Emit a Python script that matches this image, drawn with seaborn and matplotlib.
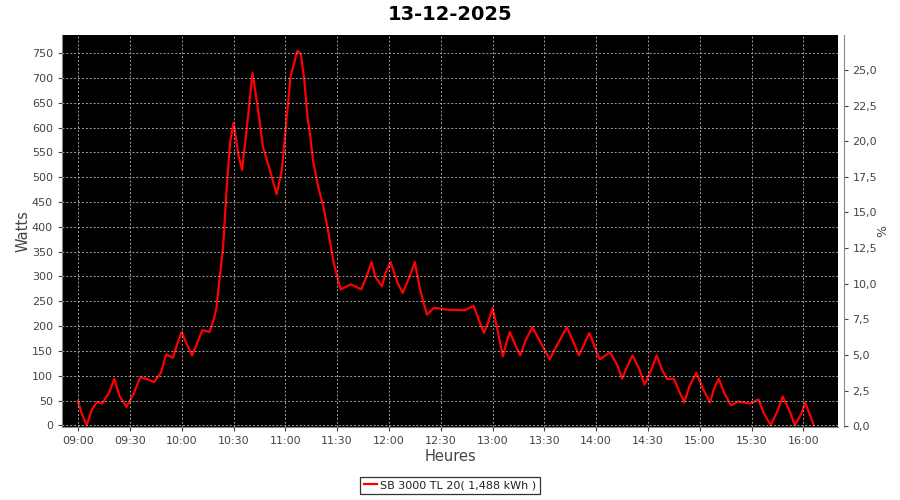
import matplotlib
matplotlib.use("Agg")
import matplotlib.pyplot as plt
import seaborn as sns
import pandas as pd
from matplotlib.ticker import FixedLocator, FuncFormatter

# ---- data ----
title = "13-12-2025"
series_name = "SB 3000 TL 20( 1,488 kWh )"
minutes_after_9 = [0, 2, 5, 8, 11, 14, 18, 21, 24, 28, 32, 36, 40, 44, 48, 51, 55, 57, 60, 63,
                   66, 69, 72, 76, 78, 80, 84, 86, 88, 90, 93, 95, 98, 101, 104, 107, 111, 115, 118, 123,
                   127, 129, 131, 133, 134, 136, 139, 142, 145, 148, 152, 158, 164, 167, 170, 172, 176, 178, 181, 185,
                   188, 192, 195, 198, 202, 206, 214, 224, 229, 232, 235, 238, 240, 243, 246, 248, 250, 253, 256, 259,
                   263, 268, 273, 278, 283, 287, 290, 293, 296, 299, 302, 308, 312, 315, 318, 321, 325, 328, 332, 335,
                   338, 341, 345, 348, 351, 354, 358, 362, 366, 368, 371, 374, 378, 382, 389, 394, 397, 401, 405, 408,
                   412, 415, 419, 421, 426]
watts = [49, 25, 0, 32, 47, 44, 66, 94, 59, 37, 62, 97, 93, 87, 106, 143, 136, 160, 188, 163,
         141, 166, 192, 188, 207, 233, 361, 475, 569, 610, 542, 515, 609, 710, 642, 562, 515, 466, 515, 703,
         755, 748, 696, 616, 596, 535, 481, 441, 388, 327, 274, 284, 274, 300, 329, 300, 280, 307, 329, 287,
         267, 300, 329, 274, 223, 237, 233, 232, 241, 213, 186, 213, 237, 190, 139, 166, 188, 163, 141, 170,
         198, 166, 133, 166, 198, 166, 141, 163, 186, 160, 133, 147, 123, 94, 119, 141, 113, 82, 113, 141,
         113, 93, 94, 69, 46, 79, 106, 72, 46, 72, 94, 66, 40, 48, 44, 52, 25, 0, 29, 58,
         29, 0, 25, 46, 0]
x_tick_labels = ["09:00", "09:30", "10:00", "10:30", "11:00", "11:30", "12:00", "12:30",
                 "13:00", "13:30", "14:00", "14:30", "15:00", "15:30", "16:00"]
y_ticks = [0, 50, 100, 150, 200, 250, 300, 350, 400, 450, 500, 550, 600, 650, 700, 750]
pct_ticks = [0, 2.5, 5, 7.5, 10, 12.5, 15, 17.5, 20, 22.5, 25]

df = pd.DataFrame({"minutes": minutes_after_9, "Watts": watts})

plt.rcParams['font.family'] = ['DejaVu Sans']
tick_color = "#444444"

fig = plt.figure(figsize=(9, 5), dpi=100)
ax = fig.add_axes([62/900, 1-427/500, (838-62)/900, (427-35)/500])
ax.set_facecolor("black")

sns.lineplot(data=df, x="minutes", y="Watts", ax=ax, color="#ff0000", linewidth=1.6,
             label=series_name)

ax.set_xlim(-9.3, 440)
ax.set_ylim(-3.4, 786.8)
xt = [i * 30 for i in range(len(x_tick_labels))]
ax.xaxis.set_major_locator(FixedLocator(xt))
ax.set_xticklabels(x_tick_labels)
ax.yaxis.set_major_locator(FixedLocator(y_ticks))
ax.grid(True, color="#a0a0a0", linestyle=(0, (2, 2)), linewidth=0.7)
ax.set_axisbelow(False)
ax.tick_params(colors=tick_color, labelsize=8, length=3, width=0.8)
ax.tick_params(axis="both", labelcolor=tick_color)
for s in ["top", "right"]:
    ax.spines[s].set_visible(False)
for s in ["left", "bottom"]:
    ax.spines[s].set_color("#888888")
ax.set_xlabel("Heures", fontsize=10.5, color="#444444", labelpad=2)
ax.set_ylabel("Watts", fontsize=10.5, color="#444444", labelpad=1)

ax2 = ax.twinx()
ax2.set_ylim(-0.05, 27.45)
ax2.yaxis.set_major_locator(FixedLocator(pct_ticks))
ax2.yaxis.set_major_formatter(FuncFormatter(lambda v, p: f"{v:.1f}".replace(".", ",")))
ax2.tick_params(colors=tick_color, labelsize=8, length=3, width=0.8)
for s in ["top", "left", "bottom"]:
    ax2.spines[s].set_visible(False)
ax2.spines["right"].set_color("#888888")
ax2.spines["right"].set_position(("outward", 4))
ax2.set_ylabel("%", fontsize=9, color="#444444", labelpad=-1)

fig.suptitle(title, fontsize=14, fontweight="bold", y=0.99)

leg = ax.legend(loc="upper center", bbox_to_anchor=(450/900, 1 - 477/500), bbox_transform=fig.transFigure,
                fontsize=8, frameon=True, fancybox=False, handlelength=1.2, handletextpad=0.3,
                borderpad=0.3, borderaxespad=0)
leg.get_frame().set_edgecolor("black")
leg.get_frame().set_linewidth(0.9)
for t in leg.get_texts():
    t.set_color("#222222")

fig.savefig("out.png", dpi=100, facecolor="white")
